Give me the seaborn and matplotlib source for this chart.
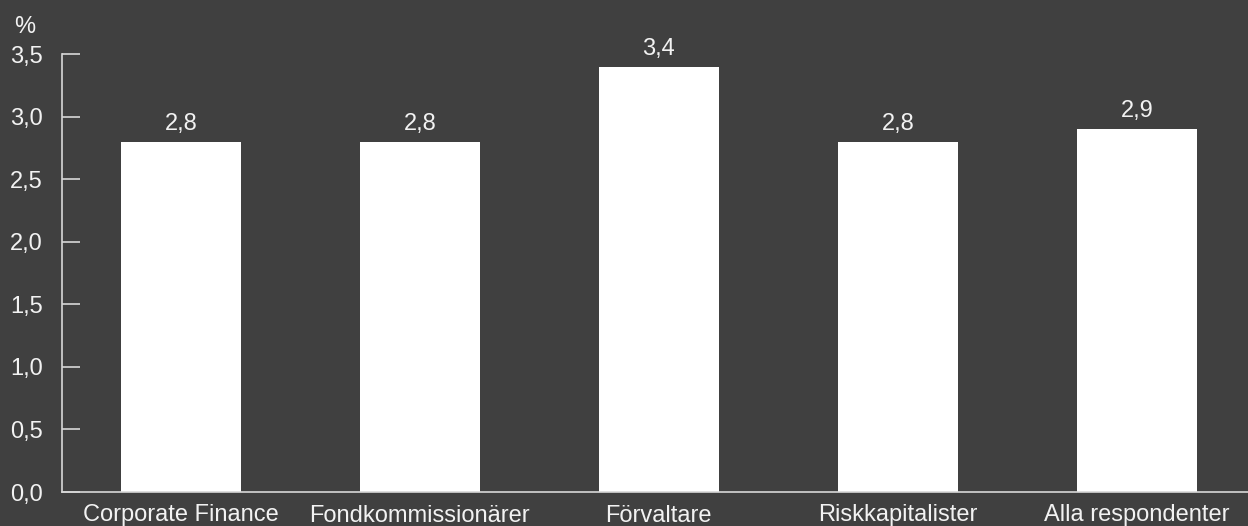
import matplotlib
matplotlib.use("Agg")
import matplotlib.pyplot as plt
import seaborn as sns
import pandas as pd

categories = ["Corporate Finance", "Fondkommissionärer", "Förvaltare",
              "Riskkapitalister", "Alla respondenter"]
values = [2.8, 2.8, 3.4, 2.8, 2.9]
yticks = [0.0, 0.5, 1.0, 1.5, 2.0, 2.5, 3.0, 3.5]

bg = "#404040"
fg = "#f2f2f2"
fs = 17

sns.set_theme(style="white")
plt.rcParams["font.family"] = ["Liberation Sans", "DejaVu Sans"]

df = pd.DataFrame({"kategori": categories, "värde": values})

fig = plt.figure(figsize=(12.48, 5.26), dpi=100, facecolor=bg)
ax = fig.add_axes([62 / 1248, 34 / 526, 1 - 62 / 1248, (492 - 54) / 526])
ax.set_facecolor(bg)

sns.barplot(data=df, x="kategori", y="värde", color="white", saturation=1,
            width=0.5, edgecolor="none", ax=ax)

ax.set_xlim(-0.497, 4.465)
ax.set_ylim(0, 3.5)
ax.set_yticks(yticks)
ax.set_yticklabels([f"{t:.1f}".replace(".", ",") for t in yticks])
ax.set_xlabel("")
ax.set_ylabel("")

for sp in ["top", "right"]:
    ax.spines[sp].set_visible(False)
for sp in ["left", "bottom"]:
    ax.spines[sp].set_color("#d8d8d8")
    ax.spines[sp].set_linewidth(1.2)

ax.tick_params(axis="y", direction="in", length=13, width=1.2, color="#d8d8d8",
               labelsize=fs, labelcolor=fg, pad=14, left=True)
ax.tick_params(axis="x", length=0, labelsize=fs, labelcolor=fg, pad=9)

for i, v in enumerate(values):
    ax.annotate(f"{v:.1f}".replace(".", ","), (i, v), xytext=(0, 5),
                textcoords="offset points", ha="center", va="bottom",
                color=fg, fontsize=fs)

fig.text(25 / 1248, 1 - 27 / 526, "%", color=fg, fontsize=fs,
         ha="center", va="center")

fig.savefig("out.png", dpi=100, facecolor=bg)
